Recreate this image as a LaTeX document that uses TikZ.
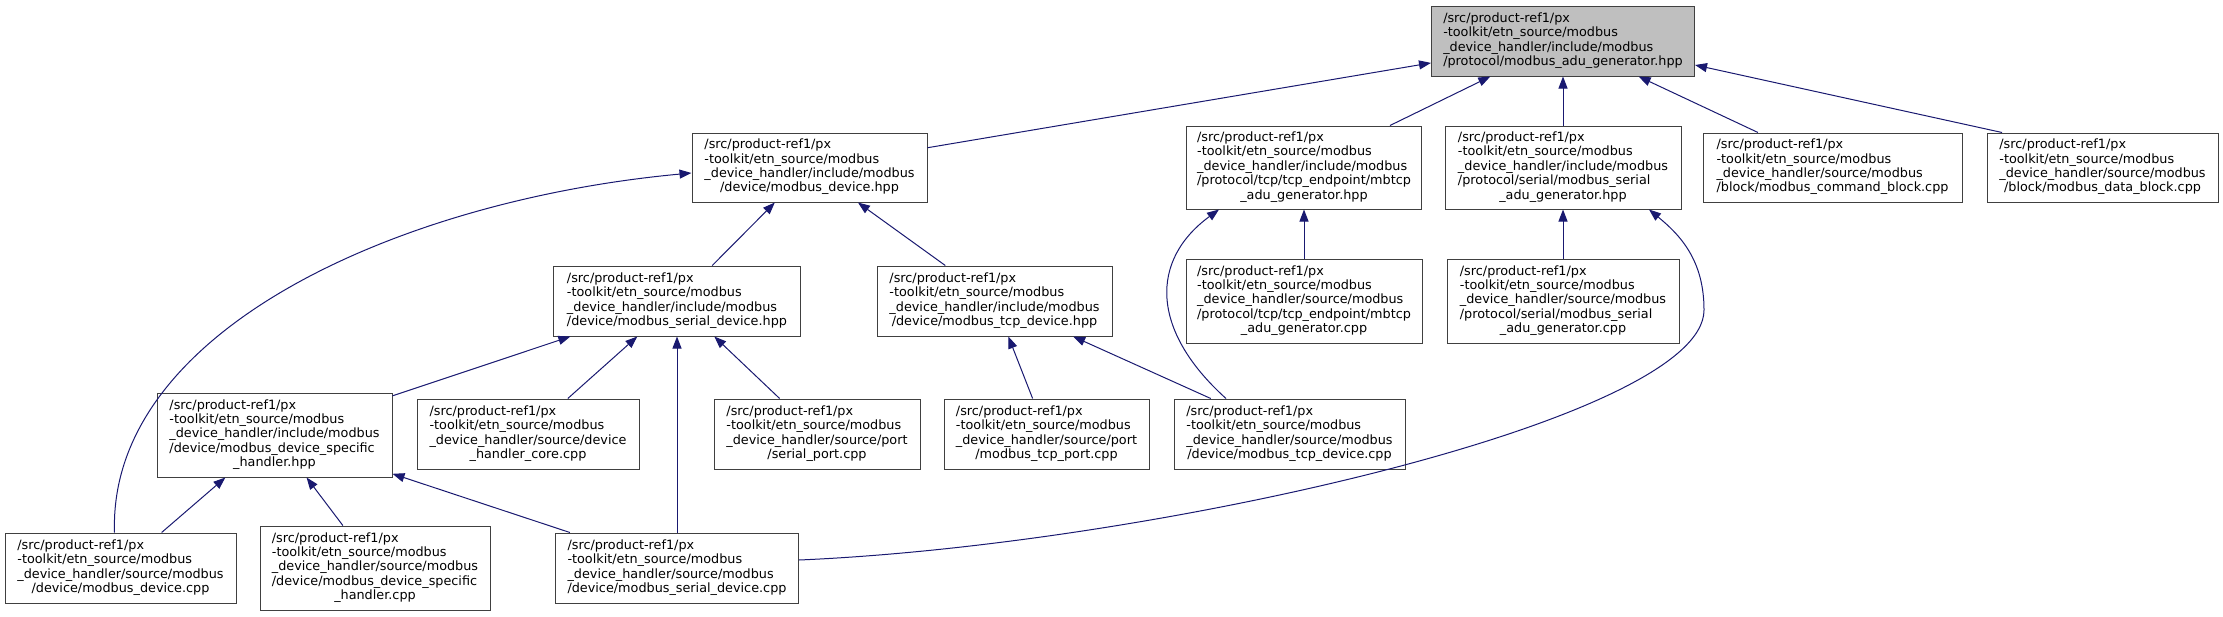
\documentclass[tikz,border=0pt]{standalone}
\usepackage{fontspec}
\setmainfont{DejaVu Sans}
\usetikzlibrary{arrows.meta}
\definecolor{edgeblue}{HTML}{191970}
\definecolor{rootgray}{HTML}{BFBFBF}
\definecolor{bordergray}{HTML}{404040}
\newcommand{\pxA}{/src/product-ref1/px}
\newcommand{\pxB}{-toolkit/etn\_source/modbus}
\newcommand{\fourl}[2]{\begin{tabular}{@{}l@{}}\pxA\\\pxB\\#1\\\multicolumn{1}{@{}c@{}}{#2}\end{tabular}}
\newcommand{\fivel}[3]{\begin{tabular}{@{}l@{}}\pxA\\\pxB\\#1\\#2\\\multicolumn{1}{@{}c@{}}{#3}\end{tabular}}
\newcommand{\dvsfont}{\fontsize{12.8}{14.4}\selectfont}
\tikzset{
  box/.style={draw=bordergray, line width=1pt, fill=white, inner sep=0pt, font=\dvsfont},
  sz/.style 2 args={minimum width=#1pt, minimum height=#2pt},
  edge/.style={draw=edgeblue, line width=1pt, -{Triangle[length=12pt,width=9pt]}}
}
\begin{document}
\begin{tikzpicture}[x=1pt,y=-1pt]
\useasboundingbox (0,0) rectangle (2223,616);
% rank 0
\node[box, fill=rootgray, sz={263}{70}] (root) at (1563,41) {\fourl{\_device\_handler/include/modbus}{/protocol/modbus\_adu\_generator.hpp}};
% rank 1
\node[box, sz={235}{69}] (devhpp) at (809.5,167.5) {\fourl{\_device\_handler/include/modbus}{/device/modbus\_device.hpp}};
\node[box, sz={235}{83}] (mbtcphpp) at (1304,167.5) {\fivel{\_device\_handler/include/modbus}{/protocol/tcp/tcp\_endpoint/mbtcp}{\_adu\_generator.hpp}};
\node[box, sz={236}{83}] (serialaduhpp) at (1563,167.5) {\fivel{\_device\_handler/include/modbus}{/protocol/serial/modbus\_serial}{\_adu\_generator.hpp}};
\node[box, sz={259}{69}] (cmd) at (1832.5,167.5) {\fourl{\_device\_handler/source/modbus}{/block/modbus\_command\_block.cpp}};
\node[box, sz={231}{69}] (data) at (2102.5,167.5) {\fourl{\_device\_handler/source/modbus}{/block/modbus\_data\_block.cpp}};
% rank 2
\node[box, sz={247}{70}] (serialdevhpp) at (677,301) {\fourl{\_device\_handler/include/modbus}{/device/modbus\_serial\_device.hpp}};
\node[box, sz={235}{70}] (tcpdevhpp) at (994.5,301) {\fourl{\_device\_handler/include/modbus}{/device/modbus\_tcp\_device.hpp}};
\node[box, sz={236}{84}] (mbtcpcpp) at (1304,301) {\fivel{\_device\_handler/source/modbus}{/protocol/tcp/tcp\_endpoint/mbtcp}{\_adu\_generator.cpp}};
\node[box, sz={232}{84}] (serialaducpp) at (1563,301) {\fivel{\_device\_handler/source/modbus}{/protocol/serial/modbus\_serial}{\_adu\_generator.cpp}};
% rank 3
\node[box, sz={235}{84}] (spechpp) at (274.5,435) {\fivel{\_device\_handler/include/modbus}{/device/modbus\_device\_specific}{\_handler.hpp}};
\node[box, sz={222}{70}] (core) at (528,434) {\fourl{\_device\_handler/source/device}{\_handler\_core.cpp}};
\node[box, sz={206}{70}] (serialport) at (817,434) {\fourl{\_device\_handler/source/port}{/serial\_port.cpp}};
\node[box, sz={205}{70}] (tcpport) at (1046.5,434) {\fourl{\_device\_handler/source/port}{/modbus\_tcp\_port.cpp}};
\node[box, sz={231}{70}] (tcpdevcpp) at (1289.5,434) {\fourl{\_device\_handler/source/modbus}{/device/modbus\_tcp\_device.cpp}};
% rank 4
\node[box, sz={231}{70}] (devcpp) at (120.5,568) {\fourl{\_device\_handler/source/modbus}{/device/modbus\_device.cpp}};
\node[box, sz={230}{84}] (speccpp) at (375,568) {\fivel{\_device\_handler/source/modbus}{/device/modbus\_device\_specific}{\_handler.cpp}};
\node[box, sz={243}{70}] (serialdevcpp) at (677,568) {\fourl{\_device\_handler/source/modbus}{/device/modbus\_serial\_device.cpp}};
\coordinate (bendA) at (1704,310);
% edges
\draw[edge] (devhpp) -- (root);
\draw[edge] (mbtcphpp) -- (root);
\draw[edge] (serialaduhpp) -- (root);
\draw[edge] (cmd) -- (root);
\draw[edge] ([xshift=-100.5pt]data.north) -- ([yshift=-24pt]root.east);
\draw[edge] (serialdevhpp) -- (devhpp);
\draw[edge] (tcpdevhpp) -- (devhpp);
\draw[edge] ([xshift=-6pt]devcpp.north) .. controls (108,330) and (400,200) .. ([yshift=-5.5pt]devhpp.west);
\draw[edge] (mbtcpcpp) -- (mbtcphpp);
\draw[edge] ([xshift=-63.5pt]tcpdevcpp.north) .. controls (1150,330) and (1150,260) .. ([xshift=-85pt]mbtcphpp.south);
\draw[edge] (serialaducpp) -- (serialaduhpp);
\draw[edge] ([yshift=8pt]serialdevcpp.east) .. controls (1150,545) and (1704,420) .. (bendA) .. controls (1704,260) and (1680,235) .. ([xshift=86pt]serialaduhpp.south);
\draw[edge] (spechpp) -- (serialdevhpp);
\draw[edge] (core) -- (serialdevhpp);
\draw[edge] (serialdevcpp) -- (serialdevhpp);
\draw[edge] (serialport) -- (serialdevhpp);
\draw[edge] (tcpport) -- (tcpdevhpp);
\draw[edge] (tcpdevcpp) -- (tcpdevhpp);
\draw[edge] (devcpp) -- (spechpp);
\draw[edge] (speccpp) -- (spechpp);
\draw[edge] (serialdevcpp) -- (spechpp);
\end{tikzpicture}
\end{document}
